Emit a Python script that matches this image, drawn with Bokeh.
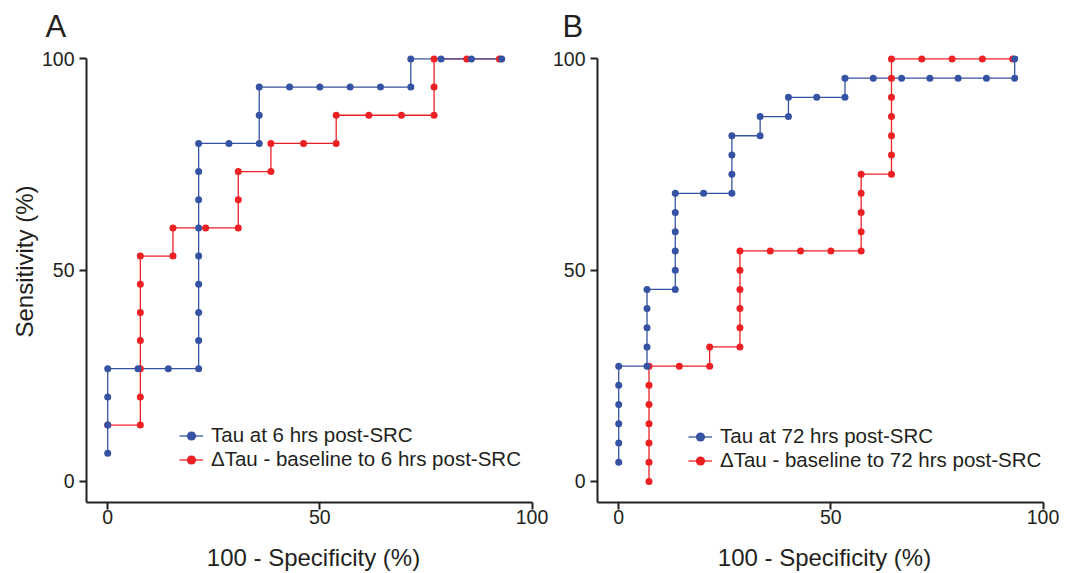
from bokeh.plotting import figure
from bokeh.models import Range1d, FixedTicker, Legend, LegendItem, Title
from bokeh.layouts import row
from bokeh.embed import file_html
from bokeh.resources import INLINE

FONT = "Liberation Sans"
TXT = "#231f20"
BLUE = "#3652a3"
RED = "#ed2124"

# ---------------- data (percent) ----------------
ticks = [0, 50, 100]
tick_labels = ["0", "50", "100"]
x_title = "100 - Specificity (%)"
y_title = "Sensitivity (%)"

# Panel A
a_tau_label = "Tau at 6 hrs post-SRC"
a_tau_x = [0, 0, 0, 0, 7.14, 14.29, 21.43, 21.43, 21.43, 21.43, 21.43, 21.43, 21.43, 21.43,
           21.43, 28.57, 35.71, 35.71, 35.71, 42.86, 50, 57.14, 64.29, 71.43, 71.43, 78.57,
           85.71, 92.86]
a_tau_y = [6.67, 13.33, 20, 26.67, 26.67, 26.67, 26.67, 33.33, 40, 46.67, 53.33, 60, 66.67,
           73.33, 80, 80, 80, 86.67, 93.33, 93.33, 93.33, 93.33, 93.33, 93.33, 100, 100, 100, 100]

a_dtau_label = "\u0394Tau - baseline to 6 hrs post-SRC"
a_dtau_x = [0, 7.69, 7.69, 7.69, 7.69, 7.69, 7.69, 7.69, 15.38, 15.38, 23.08, 30.77, 30.77,
            30.77, 38.46, 38.46, 46.15, 53.85, 53.85, 61.54, 69.23, 76.92, 76.92, 76.92,
            84.62, 92.31]
a_dtau_y = [13.33, 13.33, 20, 26.67, 33.33, 40, 46.67, 53.33, 53.33, 60, 60, 60, 66.67, 73.33,
            73.33, 80, 80, 80, 86.67, 86.67, 86.67, 86.67, 93.33, 100, 100, 100]

# Panel B
b_tau_label = "Tau at 72 hrs post-SRC"
b_tau_x = [0, 0, 0, 0, 0, 0, 6.67, 6.67, 6.67, 6.67, 6.67, 13.33, 13.33, 13.33, 13.33, 13.33,
           13.33, 20, 26.67, 26.67, 26.67, 26.67, 33.33, 33.33, 40, 40, 46.67, 53.33, 53.33,
           60, 66.67, 73.33, 80, 86.67, 93.33, 93.33]
b_tau_y = [4.55, 9.09, 13.64, 18.18, 22.73, 27.27, 27.27, 31.82, 36.36, 40.91, 45.45, 45.45,
           50, 54.55, 59.09, 63.64, 68.18, 68.18, 68.18, 72.73, 77.27, 81.82, 81.82, 86.36,
           86.36, 90.91, 90.91, 90.91, 95.45, 95.45, 95.45, 95.45, 95.45, 95.45, 95.45, 100]

b_dtau_label = "\u0394Tau - baseline to 72 hrs post-SRC"
b_dtau_x = [7.14, 7.14, 7.14, 7.14, 7.14, 7.14, 7.14, 14.29, 21.43, 21.43, 28.57, 28.57, 28.57,
            28.57, 28.57, 28.57, 35.71, 42.86, 50, 57.14, 57.14, 57.14, 57.14, 57.14, 64.29,
            64.29, 64.29, 64.29, 64.29, 64.29, 64.29, 71.43, 78.57, 85.71, 92.86]
b_dtau_y = [0, 4.55, 9.09, 13.64, 18.18, 22.73, 27.27, 27.27, 27.27, 31.82, 31.82, 36.36,
            40.91, 45.45, 50, 54.55, 54.55, 54.55, 54.55, 54.55, 59.09, 63.64, 68.18, 72.73,
            72.73, 77.27, 81.82, 86.36, 90.91, 95.45, 100, 100, 100, 100, 100]


def make_panel(letter, tau, dtau, left_border, right_border, with_ylabel,
               letter_offset, legend_loc):
    width = left_border + 454 + right_border
    p = figure(width=width, height=573, output_backend="svg", toolbar_location=None,
               x_range=Range1d(-5, 102), y_range=Range1d(-5, 102),
               min_border_left=left_border, min_border_right=right_border,
               min_border_top=50, min_border_bottom=71)
    p.outline_line_color = None
    p.xgrid.visible = False
    p.ygrid.visible = False
    p.background_fill_color = "white"
    p.border_fill_color = "white"

    for ax in (p.xaxis, p.yaxis):
        ax.ticker = FixedTicker(ticks=ticks)
        ax.major_label_overrides = {t: l for t, l in zip(ticks, tick_labels)}
        ax.bounds = (-5, 100)
        ax.axis_line_width = 2
        ax.axis_line_color = TXT
        ax.major_tick_line_width = 2
        ax.major_tick_line_color = TXT
        ax.major_tick_out = 7
        ax.major_tick_in = 0
        ax.minor_tick_line_color = None
        ax.major_label_text_font = FONT
        ax.major_label_text_font_size = "19.5px"
        ax.major_label_text_color = TXT
    p.yaxis.major_label_standoff = 5
    p.xaxis.major_label_standoff = 0

    p.xaxis.axis_label = x_title
    p.xaxis.axis_label_text_font = FONT
    p.xaxis.axis_label_text_font_size = "24px"
    p.xaxis.axis_label_text_font_style = "normal"
    p.xaxis.axis_label_text_color = TXT
    p.xaxis.axis_label_standoff = 17

    (tx, ty, tlabel), (dx, dy, dlabel) = tau, dtau
    lr_d = p.line(dx, dy, line_color=RED, line_width=1.3)
    lr_t = p.line(tx, ty, line_color=BLUE, line_width=1.3)
    sr_d = p.scatter(dx, dy, size=7, fill_color=RED, line_color=None)
    sr_t = p.scatter(tx, ty, size=7, fill_color=BLUE, line_color=None)

    legend = Legend(items=[LegendItem(label=tlabel, renderers=[lr_t, sr_t]),
                           LegendItem(label=dlabel, renderers=[lr_d, sr_d])],
                    location=legend_loc, padding=0, margin=0, spacing=0,
                    label_height=23, glyph_height=23, glyph_width=24, label_standoff=8,
                    label_text_font=FONT, label_text_font_size="20.5px",
                    label_text_color=TXT, background_fill_alpha=0,
                    border_line_alpha=0)
    p.add_layout(legend)

    p.add_layout(Title(text=letter, align="left", offset=letter_offset, standoff=13,
                       text_font=FONT, text_font_size="31px", text_font_style="normal",
                       text_color=TXT), "above")
    if with_ylabel:
        p.add_layout(Title(text=y_title, align="left", offset=165, standoff=2,
                           text_font=FONT, text_font_size="24px", text_font_style="normal",
                           text_color=TXT), "left")
    return p


pA = make_panel("A", (a_tau_x, a_tau_y, a_tau_label), (a_dtau_x, a_dtau_y, a_dtau_label),
                86, 9, True, -41, (93, 31))
pB = make_panel("B", (b_tau_x, b_tau_y, b_tau_label), (b_dtau_x, b_dtau_y, b_dtau_label),
                48, 10, False, -35, (91, 30))

layout = row(pA, pB)
open("out.html", "w").write(file_html(layout, INLINE))
